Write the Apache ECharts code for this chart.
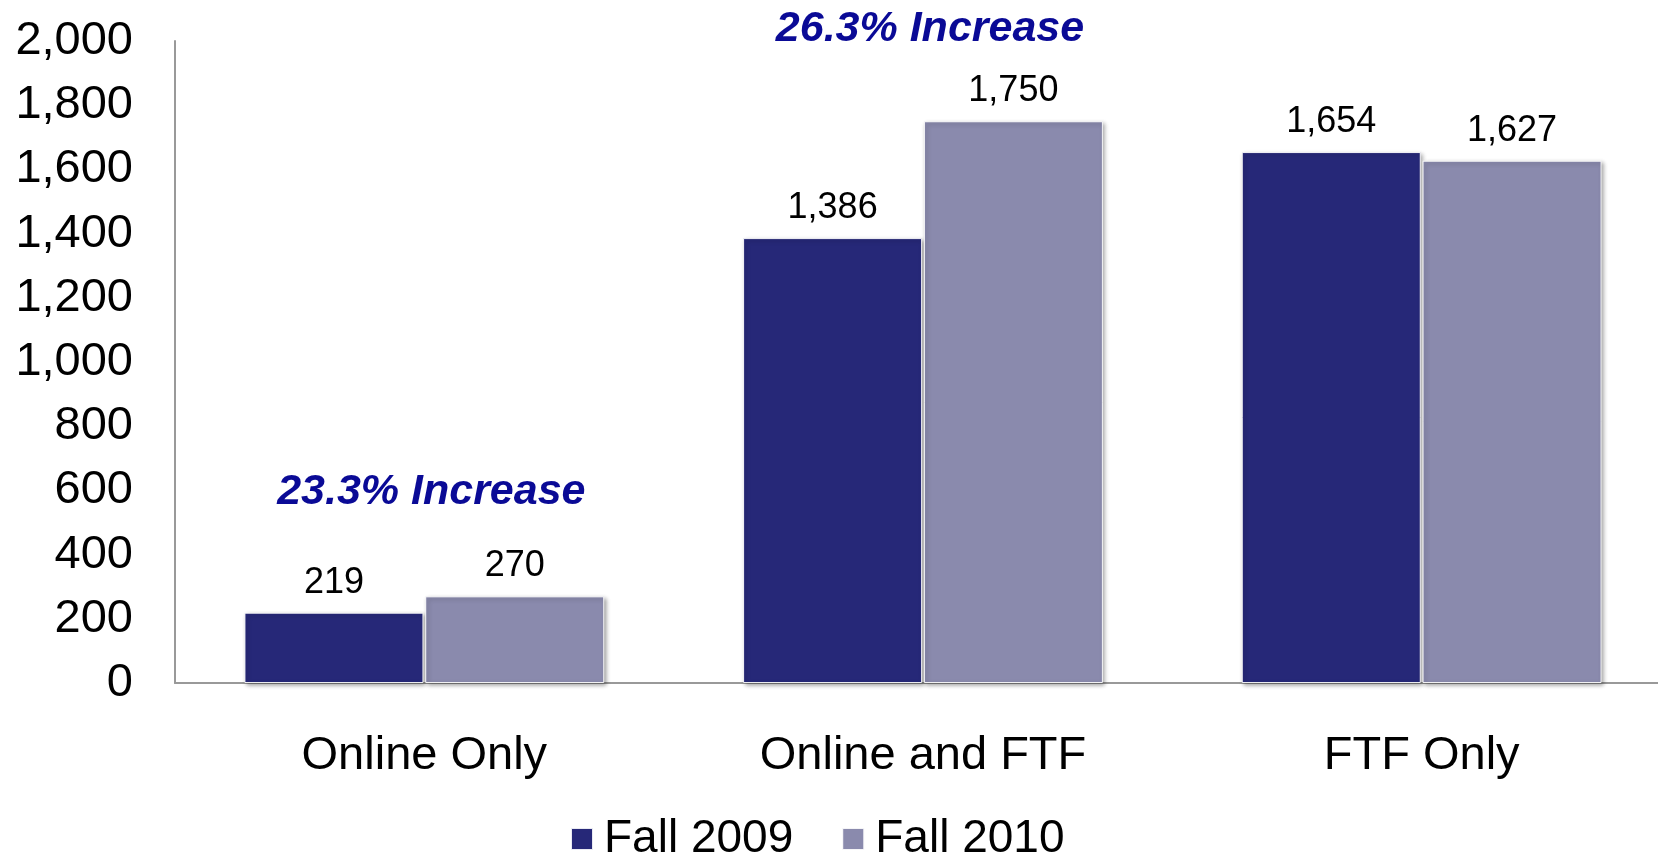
<!DOCTYPE html>
<html>
<head>
<meta charset="utf-8">
<script src="https://cdn.jsdelivr.net/npm/echarts@6/dist/echarts.min.js"></script>
<style>
  html, body { margin: 0; padding: 0; background: #fff; }
  #chart { width: 1658px; height: 856px; }
</style>
</head>
<body>
<div id="chart"></div>
<script>
// Enrollment by delivery mode, Fall 2009 vs Fall 2010
const categories = ['Online Only', 'Online and FTF', 'FTF Only'];
const fall2009 = [219, 1386, 1654];
const fall2010 = [270, 1750, 1627];
const seriesNames = ['Fall 2009', 'Fall 2010'];
const increaseNotes = ['23.3% Increase', '26.3% Increase'];

const FONT = '"Liberation Sans", Arial, sans-serif';
const fmt = v => v.toLocaleString('en-US');

const chart = echarts.init(document.getElementById('chart'));

const barEdge = {
  shadowBlur: 4,
  shadowColor: 'rgba(0,0,0,0.35)',
  shadowOffsetX: 2,
  shadowOffsetY: 2,
  borderColor: 'rgba(255,255,255,0.9)',
  borderWidth: 1
};

const valueLabel = {
  show: true,
  position: 'top',
  distance: 12,
  fontFamily: FONT,
  fontSize: 36,
  color: '#000',
  formatter: p => fmt(p.value)
};

const noteStyle = {
  fill: '#0A0A96',
  fontFamily: FONT,
  fontSize: 43,
  fontWeight: 'bold',
  fontStyle: 'italic',
  align: 'center',
  verticalAlign: 'middle'
};

chart.setOption({
  animation: false,
  backgroundColor: '#fff',
  grid: {
    left: 175, top: 41, height: 642, width: 1496,
    containLabel: false,
    outerBoundsMode: 'none'
  },
  legend: {
    data: seriesNames,
    left: 570,
    top: 816,
    padding: 0,
    itemWidth: 22,
    itemHeight: 22,
    itemGap: 48,
    icon: 'rect',
    textStyle: { fontFamily: FONT, fontSize: 46, color: '#000', lineHeight: 46, padding: [0, 0, 0, 6] }
  },
  xAxis: {
    type: 'category',
    data: categories,
    axisLine: { lineStyle: { color: '#999', width: 2 } },
    axisTick: { show: false },
    axisLabel: { fontFamily: FONT, fontSize: 47, color: '#000', margin: 50 }
  },
  yAxis: {
    type: 'value',
    min: 0,
    max: 2000,
    interval: 200,
    splitLine: { show: false },
    axisLine: { show: true, lineStyle: { color: '#999', width: 2 } },
    axisTick: { show: false },
    axisLabel: { fontFamily: FONT, fontSize: 47, color: '#000', margin: 42, formatter: v => fmt(v) }
  },
  series: [
    {
      name: seriesNames[0],
      type: 'bar',
      data: fall2009,
      barWidth: 179,
      barGap: '1%',
      itemStyle: Object.assign({ color: '#262878' }, barEdge),
      label: valueLabel
    },
    {
      name: seriesNames[1],
      type: 'bar',
      data: fall2010,
      barWidth: 179,
      barGap: '1%',
      itemStyle: Object.assign({ color: '#8A8AAD' }, barEdge),
      label: valueLabel
    }
  ]
});

// Percentage-increase notes, centred over their category groups
const noteY = [492, 29];
chart.setOption({
  graphic: increaseNotes.map((text, i) => ({
    type: 'text',
    x: chart.convertToPixel({ xAxisIndex: 0 }, categories[i]) + 7,
    y: noteY[i],
    style: Object.assign({ text: text }, noteStyle)
  }))
});
</script>
</body>
</html>
